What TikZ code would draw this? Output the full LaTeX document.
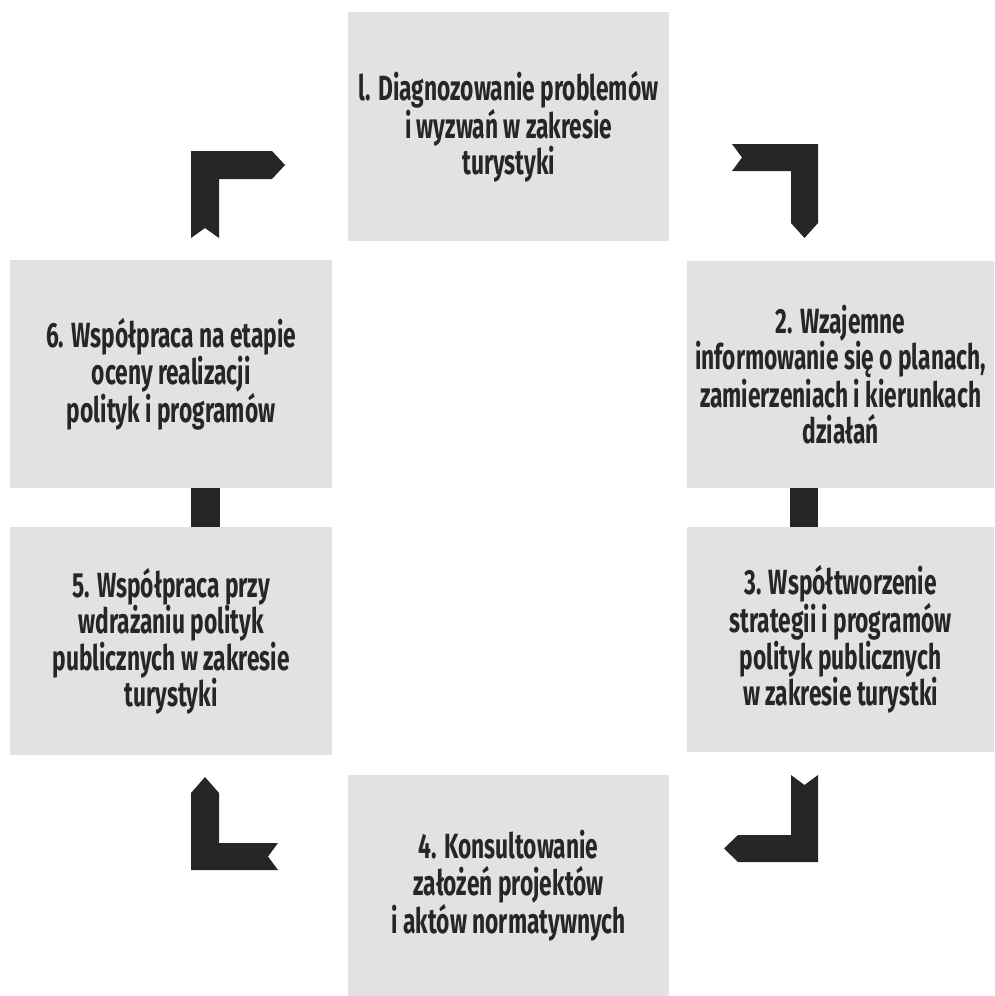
\documentclass[tikz,border=0pt]{standalone}
\usepackage{fontspec}
\setmainfont{Fira Sans}[FakeStretch=0.65]
\begin{document}
\begin{tikzpicture}[x=1pt,y=-1pt,
  box/.style={fill=boxgray, draw=none, anchor=north west, inner sep=0pt,
    align=center, text=inkgray, font=\fontsize{35}{36.5}\selectfont\bfseries},
  arrowfill/.style={fill=inkgray, draw=none}]
\definecolor{boxgray}{HTML}{E2E2E2}
\definecolor{inkgray}{HTML}{262626}
\useasboundingbox (0,0) rectangle (994,996);

% stage boxes
\node[box, minimum width=321pt, minimum height=229pt] (s1) at (348,12)
  {l. Diagnozowanie problemów\\ i wyzwań w zakresie\\ turystyki};
\node[box, minimum width=307pt, minimum height=227pt] (s2) at (687,261)
  {2. Wzajemne\\ informowanie się o planach,\\ zamierzeniach i kierunkach\\ działań};
\node[box, minimum width=307pt, minimum height=225pt] (s3) at (687,527)
  {3. Współtworzenie\\ strategii i programów\\ polityk publicznych\\ w zakresie turystki};
\node[box, minimum width=321pt, minimum height=221pt] (s4) at (348,775)
  {4. Konsultowanie\\ założeń projektów\\ i aktów normatywnych};
\node[box, minimum width=322pt, minimum height=228pt] (s5) at (10,527)
  {5. Współpraca przy\\ wdrażaniu polityk\\ publicznych w zakresie\\ turystyki};
\node[box, minimum width=322pt, minimum height=228pt] (s6) at (10,260)
  {6. Współpraca na etapie\\ oceny realizacji\\ polityk i programów};

% straight links between stacked boxes
\fill[arrowfill] (191,0 |- s6.south) rectangle (220,0 |- s5.north);
\fill[arrowfill] (790,0 |- s2.south) rectangle (818,0 |- s3.north);

% elbow arrow 6 -> 1
\fill[arrowfill] (191,238) -- (205,228) -- (219,238) -- (219,179) -- (272,179)
  -- (285,165) -- (272,151) -- (191,151) -- cycle;
% elbow arrow 1 -> 2
\fill[arrowfill] (732,144) -- (818,144) -- (818,223) -- (804.5,238) -- (791,223)
  -- (791,171) -- (732,171) -- (742,157.5) -- cycle;
% elbow arrow 3 -> 4
\fill[arrowfill] (791,775) -- (804.5,785) -- (818,775) -- (818,862) -- (738,862)
  -- (724,848.5) -- (738,835) -- (791,835) -- cycle;
% elbow arrow 4 -> 5
\fill[arrowfill] (205,777) -- (219,793) -- (219,843) -- (278,843) -- (268,856.5)
  -- (278,870) -- (191,870) -- (191,793) -- cycle;
\end{tikzpicture}
\end{document}
